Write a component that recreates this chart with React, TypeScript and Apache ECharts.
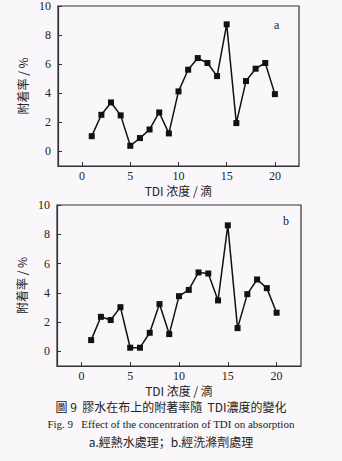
import React, { useEffect, useRef } from "react";
import * as echarts from "echarts";

const drops = [1, 2, 3, 4, 5, 6, 7, 8, 9, 10, 11, 12, 13, 14, 15, 16, 17, 18, 19, 20];
const seriesA = [1.05, 2.52, 3.37, 2.48, 0.39, 0.92, 1.51, 2.68, 1.24, 4.13, 5.62, 6.42, 6.08, 5.18, 8.74, 1.95, 4.84, 5.69, 6.08, 3.94];
const seriesB = [0.77, 2.36, 2.14, 3.02, 0.25, 0.25, 1.27, 3.23, 1.18, 3.77, 4.2, 5.39, 5.32, 3.48, 8.61, 1.59, 3.91, 4.91, 4.32, 2.64];
const xTicks = [0, 5, 10, 15, 20];
const yTicks = [0, 2, 4, 6, 8, 10];
const panelLabels = ["a", "b"];
const xName = "TDI 浓度 / 滴";
const yName = "附着率 / %";
const caption1 = "圖 9  膠水在布上的附著率隨  TDI濃度的變化";
const caption2 = "Fig. 9   Effect of the concentration of TDI on absorption";
const caption3 = "a.經熱水處理；b.經洗滌劑處理";

const serif = "'Liberation Serif', 'DejaVu Serif', serif";
const cjk = "'Noto Sans CJK SC', 'Noto Sans CJK TC', sans-serif";

export default function App() {
  const ref = useRef<HTMLDivElement>(null);
  useEffect(() => {
    if (!ref.current) return;
    const chart = echarts.init(ref.current, null, { renderer: "svg" });
    const grids = [
      { left: 58, top: 5, width: 241, height: 161 },
      { left: 57, top: 205, width: 244, height: 161 },
    ];
    const nameGaps = [18, 18.5];
    const xAxis = grids.map((_, i) => ({
      type: "value",
      gridIndex: i,
      position: "bottom",
      min: -2.5,
      max: 22.5,
      name: xName,
      nameLocation: "middle",
      nameGap: nameGaps[i],
      nameTextStyle: { fontFamily: cjk, fontSize: 12, color: "#222", lineHeight: 12 },
      axisLine: { show: true, onZero: false, lineStyle: { color: "#333", width: 1.2 } },
      axisTick: { show: true, inside: true, length: 4, customValues: xTicks, lineStyle: { color: "#333" } },
      axisLabel: { customValues: xTicks, fontFamily: serif, fontSize: 12, lineHeight: 12, color: "#222", margin: 4 },
      splitLine: { show: false },
    }));
    const yAxis = grids.map((_, i) => ({
      type: "value",
      gridIndex: i,
      position: "left",
      min: -1,
      max: 10,
      name: yName,
      nameLocation: "middle",
      nameGap: 25,
      nameRotate: 90,
      nameTextStyle: { fontFamily: cjk, fontSize: 12, color: "#222" },
      axisLine: { show: true, onZero: false, lineStyle: { color: "#333", width: 1.2 } },
      axisTick: { show: true, inside: true, length: 4, customValues: yTicks, lineStyle: { color: "#333" } },
      axisLabel: { customValues: yTicks, fontFamily: serif, fontSize: 12, color: "#222", margin: 7 },
      splitLine: { show: false },
    }));
    const mk = (vals: number[], i: number) => ({
      type: "line",
      xAxisIndex: i,
      yAxisIndex: i,
      data: drops.map((d, k) => [d, vals[k]]),
      symbol: "rect",
      symbolSize: 6,
      lineStyle: { color: "#111", width: 1.5 },
      itemStyle: { color: "#111" },
    });
    chart.setOption({
      animation: false,
      backgroundColor: "#f9f7f9",
      grid: grids.map((g) => ({ ...g, show: true, borderColor: "#333", borderWidth: 1.2, backgroundColor: "transparent" })),
      xAxis,
      yAxis,
      series: [mk(seriesA, 0), mk(seriesB, 1)],
      graphic: [
        { type: "text", left: 274, top: 19, style: { text: panelLabels[0], font: `12px ${serif}`, fill: "#222" } },
        { type: "text", left: 283, top: 215, style: { text: panelLabels[1], font: `12px ${serif}`, fill: "#222" } },
        { type: "text", left: "center", top: 400, style: { text: caption1, font: `12px ${cjk}`, fill: "#222", lineHeight: 12 } },
        { type: "text", left: "center", top: 418, style: { text: caption2, font: `11px ${serif}`, fill: "#222" } },
        { type: "text", left: "center", top: 435, style: { text: caption3, font: `12px ${cjk}`, fill: "#222" } },
      ],
    });
    return () => chart.dispose();
  }, []);
  return <div ref={ref} style={{ position: "fixed", left: 0, top: 0, width: 342, height: 461 }} />;
}
